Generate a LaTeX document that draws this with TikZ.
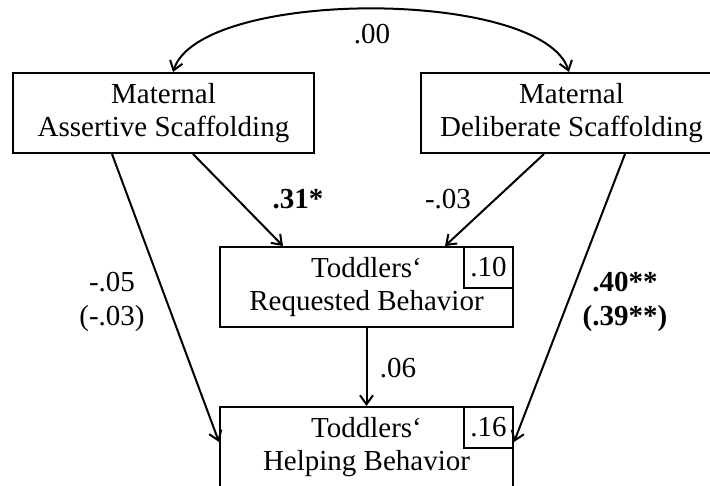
\documentclass[tikz,border=0pt]{standalone}
\usepackage{fontspec}
\setmainfont{Liberation Serif}
\usetikzlibrary{arrows.meta,calc}
\begin{document}
\begin{tikzpicture}[x=1pt,y=-1pt,
  every node/.style={font=\fontsize{29}{33.5}\selectfont, inner sep=0pt},
  varbox/.style={draw, line width=2pt, minimum width=301pt, minimum height=80pt, align=center},
  rsq/.style={draw, line width=2pt, minimum width=49pt, minimum height=41pt, anchor=north east},
  link/.style={line width=2pt, ->},
  >={Straight Barb[length=9pt,width=13pt]},
  coef/.style={anchor=base, align=center},
  coefbf/.style={coef, font=\fontsize{29}{33.5}\selectfont\bfseries},
  ]
\useasboundingbox (0,0) rectangle (710,485);
\clip (0,0) rectangle (710,485);

% variables
\node[varbox] (mas) at (163.5,113) {Maternal\\Assertive Scaffolding};
\node[varbox] (mds) at (571.5,113) {Maternal\\Deliberate Scaffolding};
\node[varbox, minimum width=293pt] (trb) at (366.5,287) {Toddlers‘\\Requested Behavior};
\node[varbox, minimum width=293pt] (thb) at (366.5,447) {Toddlers‘\\Helping Behavior};
\node[rsq] (r1) at (trb.north east) {.10};
\node[rsq] (r2) at (thb.north east) {.16};

% covariance between the two scaffolding styles
\draw[link,<->] ([xshift=9.5pt]mas.north) .. controls +(27,-84) and +(-27,-84) .. ([xshift=-2.5pt]mds.north);

% paths
\draw[link] ([xshift=29.5pt]mas.south) -- ([xshift=-83.5pt]trb.north);
\draw[link] ([xshift=-27.5pt]mds.south) -- ([xshift=78.5pt]trb.north);
\draw[link] ([xshift=-51.5pt]mas.south) -- ([yshift=-36pt]thb.north west);
\draw[link] ([xshift=53.5pt]mds.south) -- ([yshift=-36pt]thb.north east);
\draw[link] (trb.south) -- (thb.north);

% coefficients
\node[coef] (c00) at (372,43) {.00};
\node[coefbf] (c31) at (298,208) {.31*};
\node[coef] (c03) at (448,208) {-.03};
\node[coef] (c05) at (112,325) {-.05\\(-.03)};
\node[coefbf] (c40) at (625,325) {.40**\\(.39**)};
\node[coef] (c06) at (398,377) {.06};
\end{tikzpicture}
\end{document}
